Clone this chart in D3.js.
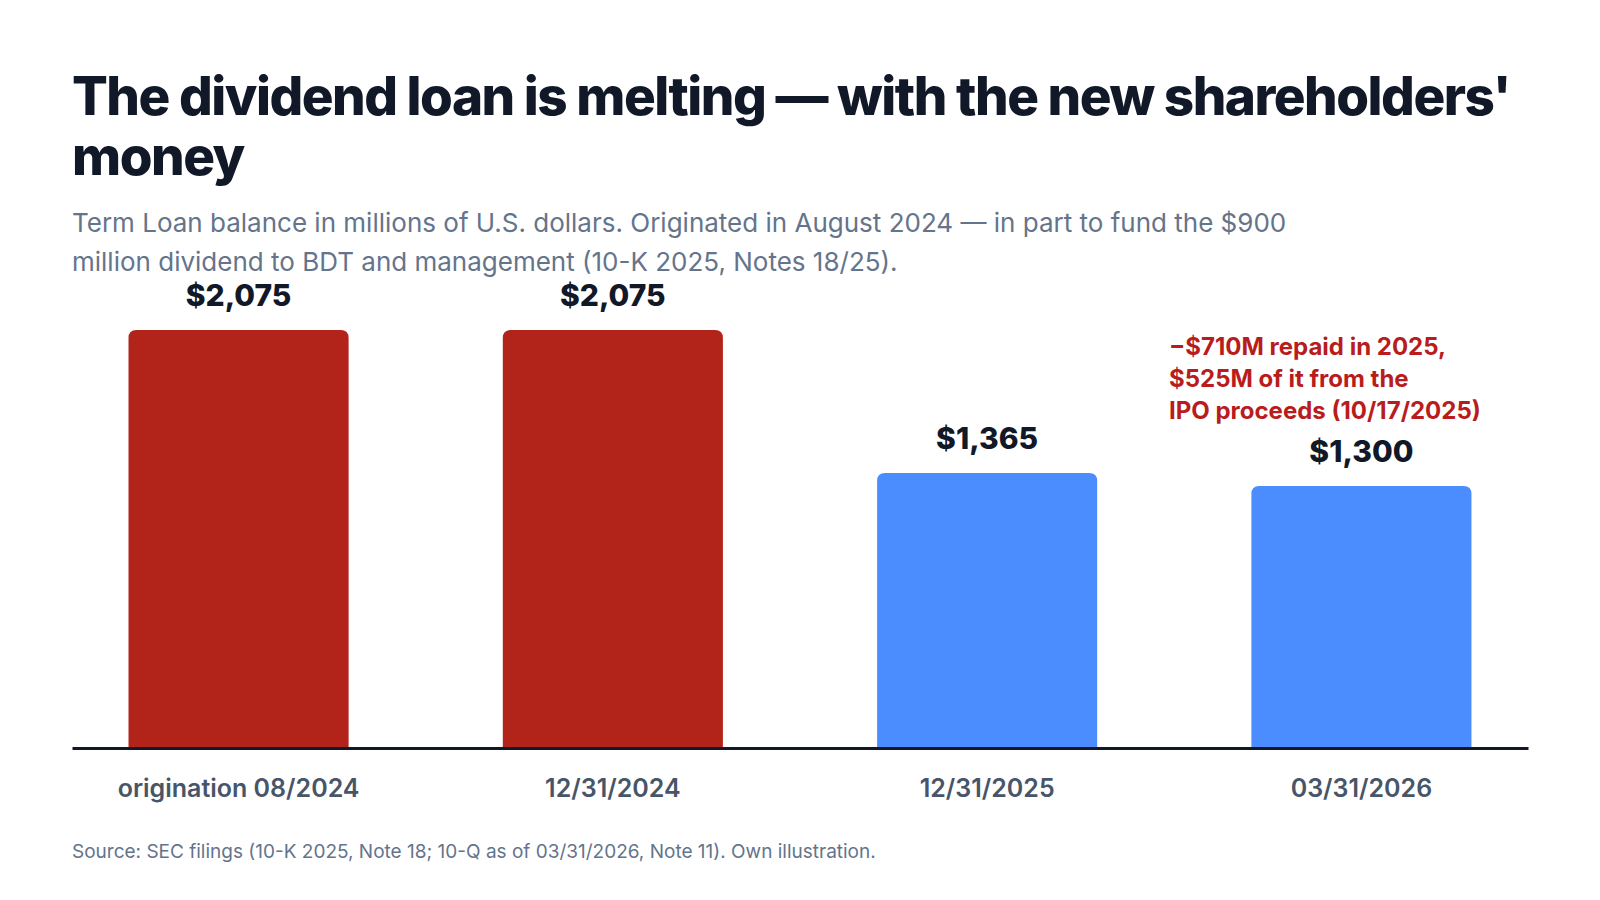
<!DOCTYPE html>
<html>
<head>
<meta charset="utf-8">
<title>Term Loan</title>
<script src="https://d3js.org/d3.v7.min.js"></script>
<style>
body { margin: 0; padding: 0; background: #fff; }
svg { display: block; font-family: Inter, "Noto Sans", sans-serif; }
</style>
</head>
<body>
<svg id="chart" width="1600" height="900"></svg>
<script>
// data
var categories = ["origination 08/2024", "12/31/2024", "12/31/2025", "03/31/2026"];
var balances = [2075, 2075, 1365, 1300];
var barColors = ["#B2231A", "#B2231A", "#4B8DFF", "#4B8DFF"];
var titleLines = ["The dividend loan is melting \u2014 with the new shareholders'", "money"];
var subtitleLines = [
  "Term Loan balance in millions of U.S. dollars. Originated in August 2024 \u2014 in part to fund the $900",
  "million dividend to BDT and management (10-K 2025, Notes 18/25)."
];
var noteLines = ["\u2212$710M repaid in 2025,", "$525M of it from the", "IPO proceeds (10/17/2025)"];
var sourceText = "Source: SEC filings (10-K 2025, Note 18; 10-Q as of 03/31/2026, Note 11). Own illustration.";

var svg = d3.select("#chart");

var margin = {left: 72, right: 72, base: 748};

var x = d3.scaleBand()
  .domain(categories)
  .range([margin.left, 1528])
  .paddingInner(0.412)
  .paddingOuter(0.151);

var y = d3.scaleLinear().domain([0, 2300]).range([margin.base, margin.base - 2300 * 418 / 2075]);

// title
svg.append("text")
  .attr("x", 72).attr("y", 115)
  .attr("fill", "#111827")
  .style("font-size", "53px").style("font-weight", 800)
  .style("letter-spacing", "-1.5px")
  .selectAll("tspan").data(titleLines).enter().append("tspan")
  .attr("x", 72).attr("dy", function(d, i) { return i ? 60 : 0; })
  .text(function(d) { return d; });

// subtitle
svg.append("text")
  .attr("x", 72).attr("y", 232)
  .attr("fill", "#64748B")
  .style("font-size", "26px")
  .selectAll("tspan").data(subtitleLines).enter().append("tspan")
  .attr("x", 72).attr("dy", function(d, i) { return i ? 39 : 0; })
  .text(function(d) { return d; });

// bars, rounded top only
var r = 8;
function barPath(d, i) {
  var x0 = x(categories[i]), w = x.bandwidth(), y0 = y(d), y1 = y(0);
  return "M" + x0 + "," + y1 + "V" + (y0 + r) + "Q" + x0 + "," + y0 + " " + (x0 + r) + "," + y0 +
    "H" + (x0 + w - r) + "Q" + (x0 + w) + "," + y0 + " " + (x0 + w) + "," + (y0 + r) + "V" + y1 + "Z";
}

svg.append("g").selectAll("path")
  .data(balances).enter().append("path")
  .attr("d", barPath)
  .attr("fill", function(d, i) { return barColors[i]; });

// value labels
svg.append("g").selectAll("text")
  .data(balances).enter().append("text")
  .attr("x", function(d, i) { return x(categories[i]) + x.bandwidth() / 2; })
  .attr("y", function(d) { return y(d) - 24; })
  .attr("text-anchor", "middle")
  .attr("fill", "#111827")
  .style("font-size", "30px").style("font-weight", 800)
  .text(function(d) { return "$" + d3.format(",")(d); });

// baseline axis
var xAxis = d3.axisBottom(x).tickSize(0).tickPadding(31);
var gx = svg.append("g")
  .attr("transform", "translate(0," + margin.base + ")")
  .call(xAxis);
gx.select(".domain").attr("stroke", "#111827").attr("stroke-width", 3);
gx.selectAll(".tick text")
  .attr("fill", "#475569")
  .style("font-family", "Inter, sans-serif")
  .style("font-size", "25px").style("font-weight", 600);

// annotation
svg.append("text")
  .attr("x", 1169).attr("y", 355)
  .attr("fill", "#B91C1C")
  .style("font-size", "24px").style("font-weight", 700)
  .selectAll("tspan").data(noteLines).enter().append("tspan")
  .attr("x", 1169).attr("dy", function(d, i) { return i ? 32 : 0; })
  .text(function(d) { return d; });

// source
svg.append("text")
  .attr("x", 72).attr("y", 858)
  .attr("fill", "#64748B")
  .style("font-size", "19px")
  .text(sourceText);
</script>
</body>
</html>
